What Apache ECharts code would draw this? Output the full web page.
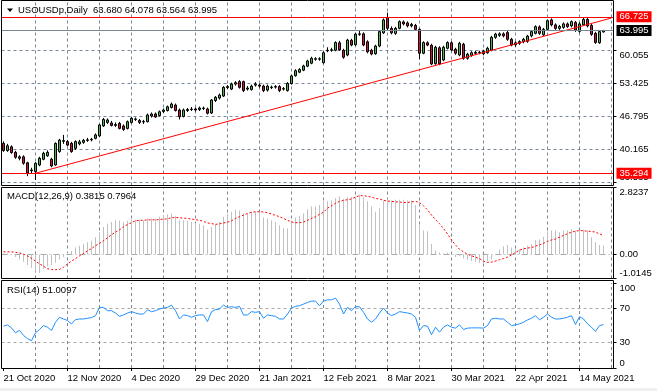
<!DOCTYPE html>
<html><head><meta charset="utf-8">
<script src="https://cdn.jsdelivr.net/npm/echarts@6/dist/echarts.min.js"></script>
<style>html,body{margin:0;padding:0;background:#fff}#c{width:657px;height:391px}</style>
</head><body><div id="c"></div>
<script>
// ---------- DATA ----------
const dates = [
'2020-10-21','2020-10-22','2020-10-23','2020-10-26','2020-10-27','2020-10-28','2020-10-29','2020-10-30',
'2020-11-02','2020-11-03','2020-11-04','2020-11-05','2020-11-06','2020-11-09','2020-11-10','2020-11-11',
'2020-11-12','2020-11-13','2020-11-16','2020-11-17','2020-11-18','2020-11-19','2020-11-20','2020-11-23',
'2020-11-24','2020-11-25','2020-11-26','2020-11-27','2020-11-30','2020-12-01','2020-12-02','2020-12-03',
'2020-12-04','2020-12-07','2020-12-08','2020-12-09','2020-12-10','2020-12-11','2020-12-14','2020-12-15',
'2020-12-16','2020-12-17','2020-12-18','2020-12-21','2020-12-22','2020-12-23','2020-12-24','2020-12-28',
'2020-12-29','2020-12-30','2020-12-31','2021-01-04','2021-01-05','2021-01-06','2021-01-07','2021-01-08',
'2021-01-11','2021-01-12','2021-01-13','2021-01-14','2021-01-15','2021-01-18','2021-01-19','2021-01-20',
'2021-01-21','2021-01-22','2021-01-25','2021-01-26','2021-01-27','2021-01-28','2021-01-29','2021-02-01',
'2021-02-02','2021-02-03','2021-02-04','2021-02-05','2021-02-08','2021-02-09','2021-02-10','2021-02-11',
'2021-02-12','2021-02-15','2021-02-16','2021-02-17','2021-02-18','2021-02-19','2021-02-22','2021-02-23',
'2021-02-24','2021-02-25','2021-02-26','2021-03-01','2021-03-02','2021-03-03','2021-03-04','2021-03-05',
'2021-03-08','2021-03-09','2021-03-10','2021-03-11','2021-03-12','2021-03-15','2021-03-16','2021-03-17',
'2021-03-18','2021-03-19','2021-03-22','2021-03-23','2021-03-24','2021-03-25','2021-03-26','2021-03-29',
'2021-03-30','2021-03-31','2021-04-01','2021-04-05','2021-04-06','2021-04-07','2021-04-08','2021-04-09',
'2021-04-12','2021-04-13','2021-04-14','2021-04-15','2021-04-16','2021-04-19','2021-04-20','2021-04-21',
'2021-04-22','2021-04-23','2021-04-26','2021-04-27','2021-04-28','2021-04-29','2021-04-30','2021-05-03',
'2021-05-04','2021-05-05','2021-05-06','2021-05-07','2021-05-10','2021-05-11','2021-05-12','2021-05-13',
'2021-05-14','2021-05-17','2021-05-18','2021-05-19','2021-05-20','2021-05-21','2021-05-24'];
const futureSlots = ['2021-05-25','2021-05-26'];

// [open, close, low, high]
const ohlc = [
[41.30,39.85,39.60,41.70],[39.85,40.80,39.60,41.20],[40.60,39.45,39.20,40.90],[39.50,38.50,38.20,39.80],
[38.30,38.60,37.90,38.90],[38.60,37.30,37.00,38.90],[37.40,35.30,34.70,37.60],[35.80,35.95,35.30,36.40],
[35.60,37.30,33.94,37.50],[36.95,38.30,36.70,38.60],[38.10,39.30,37.90,39.60],[38.80,39.50,38.60,39.90],
[38.10,36.75,36.50,38.40],[36.95,41.30,36.80,41.50],[39.65,41.95,39.40,42.20],[41.70,41.85,41.20,43.00],
[41.65,40.95,40.70,42.00],[41.30,39.65,39.40,41.60],[40.30,41.65,40.00,41.90],[41.20,41.60,40.90,42.00],
[41.50,41.90,41.20,42.20],[41.90,42.00,41.60,42.40],[42.00,42.10,41.70,42.40],[42.30,43.00,42.10,43.30],
[42.80,45.00,42.60,45.20],[44.80,46.10,44.60,46.40],[45.50,46.00,45.20,46.30],[45.40,44.90,44.70,45.80],
[44.90,45.10,44.60,45.50],[45.30,44.30,44.10,45.60],[44.80,44.10,43.80,45.10],[44.30,45.65,44.10,45.90],
[45.50,46.35,45.30,46.60],[46.10,46.20,45.80,46.50],[45.90,45.50,45.20,46.20],[45.60,45.70,45.20,46.00],
[45.65,47.00,45.50,47.30],[46.80,47.20,46.50,47.50],[47.20,46.60,46.40,47.50],[46.90,47.65,46.70,47.90],
[47.70,48.00,47.40,48.30],[47.90,48.65,47.70,48.90],[48.50,49.20,48.30,49.50],[49.00,47.90,47.70,49.30],
[48.00,46.65,46.10,48.30],[46.70,48.00,46.50,48.30],[47.90,48.10,47.60,48.40],[48.10,48.20,47.80,48.60],
[48.20,48.00,47.70,48.50],[48.10,48.40,47.80,48.70],[48.40,48.30,48.00,48.70],[48.20,47.35,47.10,48.50],
[47.40,50.00,47.20,50.20],[49.90,50.55,49.60,50.80],[50.40,51.00,50.10,51.30],[50.80,52.55,50.60,52.80],
[52.50,52.70,52.20,53.00],[52.20,53.20,52.00,53.50],[53.20,53.50,52.90,53.80],[53.70,52.55,52.30,54.00],
[53.70,51.90,51.60,53.90],[52.20,52.40,51.90,52.80],[52.10,52.80,51.90,53.10],[53.00,53.20,52.70,53.60],
[53.00,52.80,52.50,53.30],[52.80,51.90,51.60,53.10],[52.00,52.80,51.70,53.10],[52.50,52.60,52.20,52.90],
[52.70,52.60,52.30,53.00],[52.70,51.90,51.60,53.00],[52.20,52.30,51.90,52.60],[51.90,53.35,51.70,53.60],
[53.30,54.85,53.10,55.10],[54.90,55.90,54.70,56.20],[55.60,56.15,55.40,56.40],[56.00,56.85,55.80,57.10],
[56.80,57.85,56.60,58.10],[57.40,58.40,57.20,58.70],[58.30,58.20,57.90,58.60],[58.20,58.30,57.90,58.60],
[57.50,59.50,57.30,59.80],[59.90,60.00,59.60,60.60],[60.00,60.10,59.70,60.50],[60.00,61.55,59.80,61.80],
[61.50,60.10,59.90,61.90],[60.00,58.60,58.30,60.30],[59.05,62.05,58.80,62.30],[62.00,61.05,60.80,62.30],
[61.10,63.25,60.90,63.50],[63.20,63.30,62.90,63.90],[63.30,61.05,60.80,63.60],[61.70,59.70,59.40,62.00],
[60.00,59.25,59.00,60.30],[59.30,60.85,59.10,61.10],[60.85,63.75,60.60,64.00],[63.50,66.10,63.30,66.40],
[66.60,64.40,64.00,67.55],[64.40,63.50,63.20,64.80],[63.40,64.40,63.10,64.70],[64.40,65.75,64.20,66.00],
[65.70,65.30,65.00,66.00],[65.50,64.90,64.60,65.80],[64.90,65.20,64.60,65.50],[65.00,64.20,63.90,65.30],
[64.20,59.40,58.20,64.40],[59.40,61.55,59.20,61.80],[61.50,61.05,60.80,61.80],[61.00,57.25,57.00,61.30],
[57.30,60.60,57.10,60.90],[60.50,57.25,57.00,60.80],[58.05,60.60,57.80,60.90],[60.40,61.55,60.20,61.80],
[61.50,60.05,59.80,61.80],[60.20,59.40,59.10,60.50],[59.05,61.40,58.80,61.70],[61.20,58.40,58.10,61.50],
[58.40,59.20,58.10,59.50],[59.00,59.50,58.70,59.80],[59.40,59.60,59.10,59.90],[59.50,59.60,59.20,59.90],
[59.30,59.80,59.00,60.10],[59.50,60.40,59.30,60.70],[60.05,62.60,59.80,62.90],[62.60,63.25,62.30,63.50],
[63.00,63.30,62.70,63.60],[63.30,62.90,62.60,63.60],[63.55,62.20,61.90,63.90],[62.20,61.05,60.80,62.50],
[61.10,61.50,60.70,61.80],[61.40,61.75,61.10,62.00],[61.70,62.20,61.40,62.50],[61.80,62.85,61.50,63.10],
[62.90,63.75,62.60,64.00],[63.40,64.75,63.20,65.00],[64.70,63.40,63.10,65.00],[63.10,64.20,62.90,64.50],
[64.20,65.95,64.00,66.20],[66.10,65.10,64.80,66.40],[65.10,64.40,64.10,65.40],[64.40,64.80,64.10,65.10],
[64.60,65.30,64.30,65.60],[65.30,64.75,64.50,65.60],[64.90,65.75,64.60,66.00],[65.60,64.05,63.70,65.90],
[63.80,65.30,63.50,65.60],[65.10,66.20,64.90,66.50],[66.20,64.90,64.60,66.70],[65.00,63.20,62.90,65.30],
[63.40,61.55,61.30,63.70],[61.50,63.75,61.30,64.00],[63.680,63.995,63.564,64.078]];

const macdMain = [
0.04,0.04,-0.02,-0.11,-0.21,-0.31,-0.45,-0.57,-0.71,-0.78,
-0.60,-0.50,-0.45,-0.35,-0.21,-0.11,0.08,0.15,0.29,0.37,
0.44,0.51,0.58,0.73,0.94,1.16,1.30,1.37,1.44,1.42,
1.37,1.42,1.47,1.47,1.47,1.44,1.52,1.52,1.52,1.59,
1.66,1.70,1.73,1.62,1.44,1.44,1.42,1.37,1.33,1.30,
1.23,1.04,1.16,1.27,1.37,1.59,1.73,1.80,1.88,1.85,
1.73,1.73,1.80,1.80,1.80,1.56,1.52,1.44,1.37,1.23,
1.11,1.09,1.42,1.56,1.62,1.73,1.91,2.02,2.02,2.09,
2.24,2.24,2.28,2.38,2.45,2.34,2.42,2.42,2.45,2.52,
2.42,2.24,2.02,1.80,1.95,2.28,2.34,2.28,2.31,2.31,
2.31,2.28,2.28,2.09,1.30,1.01,0.98,0.44,0.18,0.08,
0.04,0.08,0.01,-0.11,-0.08,-0.17,-0.22,-0.28,-0.31,-0.35,
-0.37,-0.28,-0.21,0.01,0.21,0.35,0.40,0.29,0.22,0.22,
0.29,0.37,0.44,0.61,0.63,0.75,0.98,1.01,1.01,0.94,
1.01,1.01,1.07,1.01,1.01,1.04,1.01,0.73,0.51,0.40,
0.3815];

const macdSignal = [
0.11,0.11,0.11,0.09,0.06,0.01,-0.06,-0.17,-0.28,-0.40,
-0.50,-0.60,-0.64,-0.64,-0.63,-0.54,-0.40,-0.28,-0.18,-0.06,
0.04,0.15,0.25,0.37,0.47,0.58,0.70,0.83,0.94,1.04,
1.16,1.26,1.34,1.42,1.44,1.44,1.46,1.46,1.46,1.47,
1.49,1.50,1.55,1.56,1.55,1.53,1.52,1.49,1.47,1.44,
1.39,1.33,1.30,1.27,1.29,1.33,1.36,1.42,1.52,1.59,
1.66,1.73,1.78,1.80,1.80,1.79,1.76,1.70,1.65,1.59,
1.52,1.44,1.37,1.34,1.34,1.37,1.44,1.52,1.59,1.69,
1.78,1.95,2.05,2.16,2.24,2.28,2.31,2.34,2.42,2.48,
2.48,2.45,2.42,2.36,2.34,2.28,2.25,2.24,2.22,2.21,
2.19,2.19,2.22,2.24,2.19,2.05,1.88,1.66,1.47,1.30,
1.09,0.87,0.61,0.40,0.22,0.11,0.01,-0.06,-0.11,-0.18,
-0.28,-0.34,-0.32,-0.28,-0.22,-0.17,-0.11,-0.02,0.08,0.18,
0.24,0.27,0.29,0.35,0.40,0.47,0.55,0.61,0.65,0.73,
0.80,0.87,0.94,0.98,1.01,1.00,0.98,0.97,0.94,0.87,
0.7964];

const rsi = [
49.2,50.7,47.2,41.4,44.2,38.4,34.5,32.2,41.4,45.3,
49.9,48.0,44.2,53.8,59.6,57.7,55.8,51.9,56.9,57.7,
57.7,58.5,59.3,61.6,71.3,71.3,67.4,67.4,64.7,60.8,
62.4,64.7,66.3,64.7,63.5,63.5,68.6,66.3,67.4,69.4,
70.5,71.3,74.0,67.4,57.7,62.4,61.6,59.7,61.6,62.4,
62.4,54.6,66.3,68.6,69.4,74.0,71.3,72.1,71.3,72.5,
62.4,62.4,66.3,65.5,66.3,58.5,62.4,61.6,60.8,57.7,
57.7,63.5,70.5,72.5,73.3,75.2,77.1,78.7,78.7,73.3,
78.7,80.2,80.2,82.2,75.2,63.5,71.3,67.4,72.1,72.1,
65.5,57.7,53.8,57.7,64.7,70.5,64.7,61.6,63.5,66.3,
65.5,64.7,63.5,59.7,44.2,49.9,49.2,39.1,48.0,42.2,
48.0,50.7,48.0,46.9,50.7,45.3,46.9,47.2,47.2,47.2,
46.9,49.9,57.7,58.5,57.7,57.7,53.8,49.9,50.7,51.9,
53.8,56.6,58.5,61.6,56.6,59.7,63.5,59.7,57.7,57.7,
58.5,59.7,61.6,51.2,60.4,57.7,51.9,48.0,43.0,49.9,
51.0097];

const priceTicks = [33.535, 40.165, 46.795, 53.425, 60.055];
const macdTicks = [-1.0145, 0, 2.8237];
const rsiTicks = [0, 30, 70, 100];
const rsiLevels = [30, 70];
const levelHigh = 66.725, levelLast = 63.995, levelLow = 35.294;
const trendStart = {index: 8, value: 35.294};
const trendEnd = {index: 152, value: 66.48};

// ---------- CHART ----------
const FONT = 'Liberation Sans';
const FS = 9.5;
const categories = dates.concat(futureSlots);
const MON = ['Jan','Feb','Mar','Apr','May','Jun','Jul','Aug','Sep','Oct','Nov','Dec'];
const fmtDate = s => { const p = s.split('-'); return (+p[2]) + ' ' + MON[+p[1]-1] + ' ' + p[0]; };
const every16 = idx => idx % 16 === 0;
const gridDash = {color:'#778899', type:[3,3], width:1};
const vLines = categories.map((c,i)=>i).filter(i=>i>0 && i%8===0)
  .map(i=>({xAxis: categories[i], lineStyle: gridDash}));
const noLbl = {show:false};

const last = ohlc[ohlc.length-1];
const headerText = 'USOUSDp,Daily  ' + [last[0],last[3],last[2],last[1]].map(v=>v.toFixed(3)).join(' ');
const macdText = 'MACD(12,26,9) ' + macdMain[macdMain.length-1].toFixed(4) + ' ' + macdSignal[macdSignal.length-1].toFixed(4);
const rsiText = 'RSI(14) ' + rsi[rsi.length-1].toFixed(4);

function xAx(k){
  return {type:'category', gridIndex:k, data:categories, boundaryGap:true,
    axisLine:{show:false}, splitLine:{show:false},
    axisTick:{show:k===2, interval:every16, alignWithLabel:true, length:3, lineStyle:{color:'#000'}},
    axisLabel:{show:k===2, interval:every16, formatter:fmtDate, align:'left', color:'#000',
      fontSize:FS, fontFamily:FONT, margin:5}};
}
function yAx(k, min, max, ticks, fmt){
  return {type:'value', gridIndex:k, position:'right', min:min, max:max,
    axisLine:{show:false}, splitLine:{show:false},
    axisTick:{show:true, customValues:ticks, length:3, lineStyle:{color:'#000'}},
    axisLabel:{show:true, customValues:ticks, formatter:fmt, color:'#000', fontSize:FS, fontFamily:FONT,
      margin:6, verticalAlignMinLabel:'bottom', verticalAlignMaxLabel:'top'}};
}
function priceLbl(text, bg){
  return {show:true, position:'end', distance:3, formatter:text, color:'#fff', backgroundColor:bg,
    padding:[1,3,0,3], fontSize:FS, fontFamily:FONT};
}

const chart = echarts.init(document.getElementById('c'));
chart.setOption({
  animation:false,
  backgroundColor:'#fff',
  textStyle:{fontFamily:FONT},
  grid:[
    {left:1.5, width:612, top:0.5, height:185, show:false},
    {left:1.5, width:612, top:187.5, height:91, show:false},
    {left:1.5, width:612, top:283, height:85, show:false}
  ],
  xAxis:[xAx(0), xAx(1), xAx(2)],
  yAxis:[
    yAx(0, 32.832, 70.0, priceTicks, v=>v.toFixed(3)),
    yAx(1, -1.0145, 2.8237, macdTicks, v=> v===0 ? '0.00' : v.toFixed(4)),
    yAx(2, 0, 100, rsiTicks, v=>String(v))
  ],
  series:[
    {type:'candlestick', xAxisIndex:0, yAxisIndex:0, data:ohlc, barWidth:3, z:3,
     itemStyle:{color:'#4cb04c', color0:'#c8143c', borderColor:'#000', borderColor0:'#000', borderWidth:1},
     markLine:{silent:true, symbol:['none','none'], z:1, label:noLbl, animation:false,
       data: priceTicks.map(v=>({yAxis:v, lineStyle:gridDash})).concat(vLines)}},
    {type:'line', xAxisIndex:0, yAxisIndex:0, z:4, symbol:'none', connectNulls:true,
     data: categories.map((c,i)=> i===trendStart.index ? trendStart.value : (i===trendEnd.index ? trendEnd.value : null)),
     lineStyle:{color:'#ff0000', width:1},
     markLine:{silent:true, symbol:['none','none'], z:5, animation:false,
       data:[
         {yAxis:levelHigh, lineStyle:{color:'#ff0000', type:'solid', width:1}, label:priceLbl(levelHigh.toFixed(3), '#ff0000')},
         {yAxis:levelLast, lineStyle:{color:'#778899', type:'solid', width:1}, label:priceLbl(levelLast.toFixed(3), '#000000')},
         {yAxis:levelLow, lineStyle:{color:'#ff0000', type:'solid', width:1}, label:priceLbl(levelLow.toFixed(3), '#ff0000')}
       ]}},
    {type:'bar', xAxisIndex:1, yAxisIndex:1, data:macdMain, barWidth:1, z:3,
     itemStyle:{color:'#c0c0c0'},
     markLine:{silent:true, symbol:['none','none'], z:1, label:noLbl, animation:false,
       data:[{yAxis:0, lineStyle:{color:'#a8a8a8', type:[6,3,1,3], width:1}}].concat(vLines)}},
    {type:'line', xAxisIndex:1, yAxisIndex:1, data:macdSignal, symbol:'none', z:4,
     lineStyle:{color:'#ff0000', width:1, type:[2,2]}},
    {type:'line', xAxisIndex:2, yAxisIndex:2, data:rsi, symbol:'none', z:4,
     lineStyle:{color:'#1e90ff', width:1},
     markLine:{silent:true, symbol:['none','none'], z:1, label:noLbl, animation:false,
       data: rsiLevels.map(v=>({yAxis:v, lineStyle:{color:'#a9a9a9', type:[3,3], width:1}})).concat(vLines)}}
  ],
  graphic:[
    {type:'rect', z:100, shape:{x:1.5, y:0.5, width:612, height:185}, style:{fill:null, stroke:'#000', lineWidth:1}},
    {type:'rect', z:100, shape:{x:1.5, y:187.5, width:612, height:91}, style:{fill:null, stroke:'#000', lineWidth:1}},
    {type:'rect', z:100, shape:{x:1.5, y:280.5, width:612, height:88}, style:{fill:null, stroke:'#000', lineWidth:1}},
    {type:'rect', z:100, shape:{x:0, y:388, width:657, height:3}, style:{fill:'#f0f0f0'}},
    {type:'polygon', z:100, shape:{points:[[7,8.5],[13,8.5],[10,12]]}, style:{fill:'#000'}},
    {type:'text', z:100, x:18, y:10, style:{text:headerText, fill:'#000', font:FS+'px "'+FONT+'"', verticalAlign:'middle'}},
    {type:'text', z:100, x:7, y:196, style:{text:macdText, fill:'#000', font:FS+'px "'+FONT+'"', verticalAlign:'middle'}},
    {type:'text', z:100, x:7, y:290, style:{text:rsiText, fill:'#000', font:FS+'px "'+FONT+'"', verticalAlign:'middle'}}
  ]
});
</script></body></html>
